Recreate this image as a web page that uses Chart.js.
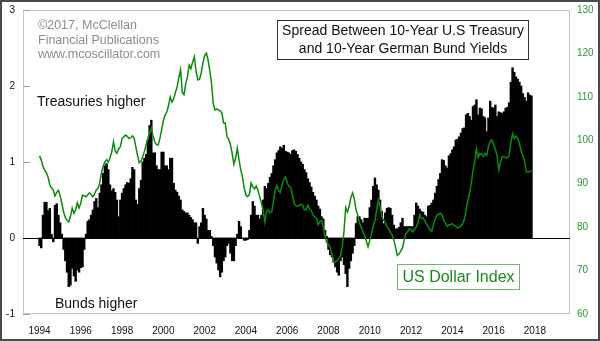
<!DOCTYPE html>
<html>
<head>
<meta charset="utf-8">
<script src="https://cdn.jsdelivr.net/npm/chart.js@4.4.0/dist/chart.umd.min.js"></script>
<style>
  html, body { margin: 0; padding: 0; background: #fff; }
  canvas { display: block; }
</style>
</head>
<body>
<canvas id="c" width="600" height="341"></canvas>
<script>
// Monthly series, first value = January 1994
const startYear = 1994;

// x-axis year labels
const yearTicks = [1994, 1996, 1998, 2000, 2002, 2004, 2006, 2008, 2010, 2012, 2014, 2016, 2018];
// left axis: yield spread (percentage points)
const spreadTicks = [-1, 0, 1, 2, 3];
// right axis: US Dollar Index
const dollarTicks = [60, 70, 80, 90, 100, 110, 120, 130];

// 10-Year US Treasury yield minus 10-Year German Bund yield
const spread = [
  -0.10,-0.13, 0.30, 0.47, 0.47, 0.36, 0.39, 0.05,-0.05, 0.43, 0.45, 0.30, // 1994
   0.20, 0.05,-0.15,-0.30,-0.45,-0.64,-0.62,-0.40,-0.50,-0.57,-0.42,-0.45, // 1995
  -0.39,-0.38,-0.15, 0.05, 0.22, 0.24, 0.30, 0.37, 0.48, 0.52, 0.40, 0.59, // 1996
   0.70, 0.85, 0.95, 0.98, 0.90, 0.70, 0.62, 0.65, 0.60, 0.50, 0.28, 0.50, // 1997
   0.59, 0.65, 0.70, 0.73, 0.72, 0.78, 0.93, 0.90, 0.50, 0.44, 0.65, 0.76, // 1998
   1.00, 1.05, 1.10, 1.29, 1.48, 1.55, 1.12, 1.12, 0.95, 0.90, 0.90, 1.13, // 1999
   1.13, 0.95, 0.95, 0.90, 1.05, 1.05, 0.72, 0.63, 0.60, 0.55, 0.50, 0.37, // 2000
   0.35, 0.33, 0.33, 0.30, 0.27, 0.24, 0.20, 0.20,-0.07, 0.15, 0.20, 0.39, // 2001
   0.30, 0.25, 0.10, 0.10, 0.02,-0.10,-0.25,-0.33,-0.42,-0.51,-0.45,-0.30, // 2002
  -0.25,-0.10,-0.07,-0.20,-0.30,-0.30,-0.10, 0.05, 0.22, 0.15, 0.00,-0.03, // 2003
  -0.03,-0.02, 0.10, 0.30, 0.48, 0.42, 0.30, 0.30, 0.25, 0.30, 0.50, 0.68, // 2004
   0.65, 0.72, 0.80, 0.85, 0.95, 1.03, 1.12, 1.15, 1.20, 1.18, 1.22, 1.14, // 2005
   1.13, 1.12, 1.10, 1.15, 1.16, 1.14, 1.10, 1.05, 1.00, 0.97, 0.90, 0.86, // 2006
   0.78, 0.73, 0.67, 0.60, 0.55, 0.50, 0.42, 0.38, 0.28, 0.25, 0.10, 0.02, // 2007
  -0.15,-0.22,-0.25,-0.32,-0.38,-0.45,-0.49,-0.30,-0.25,-0.35,-0.47,-0.64, // 2008
  -0.40,-0.30,-0.20,-0.10, 0.19, 0.28, 0.28, 0.24, 0.20, 0.26, 0.26, 0.26, // 2009
   0.40, 0.50, 0.68, 0.79, 0.70, 0.63, 0.50, 0.35, 0.19, 0.33, 0.39, 0.40, // 2010
   0.39, 0.30, 0.17, 0.12, 0.12, 0.14, 0.20, 0.26, 0.15, 0.15, 0.15, 0.15, // 2011
   0.15, 0.15, 0.30, 0.46, 0.42, 0.38, 0.35, 0.34, 0.30, 0.28, 0.42, 0.43, // 2012
   0.46, 0.50, 0.59, 0.68, 0.77, 0.85, 1.03, 1.02, 0.95, 0.92, 1.08, 1.11, // 2013
   1.16, 1.20, 1.29, 1.30, 1.33, 1.38, 1.44, 1.45, 1.62, 1.64, 1.60, 1.55, // 2014
   1.73, 1.75, 1.82, 1.62, 1.71, 1.70, 1.60, 1.58, 1.40, 1.58, 1.80, 1.72, // 2015
   1.71, 1.75, 1.60, 1.66, 1.65, 1.64, 1.66, 1.71, 1.72, 1.78, 2.05, 2.24, // 2016
   2.18, 2.12, 2.09, 2.05, 2.00, 1.90, 1.85, 1.80, 1.91, 1.88, 1.87        // 2017
];

// US Dollar Index, monthly
const dollar = [
   96.4, 95.5, 94.0, 93.2, 92.5, 91.5, 89.7, 89.0, 88.6, 87.2, 88.0, 88.5, // 1994
   87.2, 85.5, 83.5, 82.2, 81.6, 81.2, 82.5, 84.4, 83.2, 84.0, 85.6, 84.4, // 1995
   85.5, 87.4, 87.2, 87.0, 87.4, 87.9, 87.5, 87.0, 87.6, 88.6, 88.9, 90.2, // 1996
   92.5, 94.0, 95.0, 95.5, 95.0, 96.0, 97.3, 99.6, 97.5, 97.0, 98.0, 98.5, // 1997
  100.5,100.8,101.2,100.9,100.4,100.6,101.0,100.5, 98.5, 96.5, 94.8, 95.2, // 1998
   96.2, 97.5, 99.0,100.4,101.7,102.8,101.0, 99.6, 99.0, 98.9,100.5,102.4, // 1999
  104.5,105.8,106.5,108.0,110.0,108.8,109.5,111.0,112.3,114.5,116.2,111.0, // 2000
  110.5,113.0,114.6,117.3,116.5,118.0,119.2,116.0,113.9,114.0,115.5,117.8, // 2001
  119.5,120.1,118.5,116.0,113.2,108.5,107.0,107.2,107.0,106.8,106.3,104.0, // 2002
  104.0,100.8,100.2, 99.0, 97.0, 94.5, 95.9, 98.2, 95.5, 93.2, 91.5, 89.0, // 2003
   87.4, 87.0, 87.5, 90.2, 89.3, 88.8, 89.5, 88.5, 87.0, 85.5, 84.0, 81.2, // 2004
   83.5, 84.0, 83.3, 83.5, 85.8, 88.5, 89.6, 88.3, 88.0, 89.8, 91.0, 91.5, // 2005
   90.2, 89.4, 89.2, 87.5, 85.5, 85.0, 84.8, 85.0, 85.3, 85.0, 84.0, 84.0, // 2006
   85.0, 84.2, 83.8, 82.8, 82.3, 82.0, 80.5, 81.3, 81.5, 80.0, 77.7, 76.5, // 2007
   76.0, 75.3, 73.8, 72.0, 72.0, 72.3, 72.8, 73.5, 75.5, 79.0, 84.5, 83.5, // 2008
   84.8, 86.8, 87.9, 86.5, 84.0, 82.8, 81.0, 80.0, 79.0, 78.0, 76.8, 75.5, // 2009
   77.0, 78.5, 80.2, 81.5, 84.0, 86.2, 84.8, 82.5, 81.6, 81.0, 80.2, 79.6, // 2010
   78.8, 78.2, 77.0, 75.4, 73.5, 73.8, 74.5, 75.2, 77.0, 78.5, 79.0, 79.6, // 2011
   79.4, 78.9, 79.5, 80.0, 81.0, 82.8, 82.0, 82.1, 81.5, 80.7, 80.0, 79.4, // 2012
   79.1, 80.5, 81.8, 82.8, 83.0, 83.2, 82.8, 81.5, 81.0, 80.2, 80.5, 80.6, // 2013
   80.8, 80.4, 80.2, 79.8, 80.0, 80.2, 80.8, 81.8, 84.0, 86.0, 87.8, 90.0, // 2014
   93.0, 95.0, 98.0, 96.0, 97.0, 96.8, 96.3, 97.0, 96.5, 98.5, 99.8,100.1, // 2015
   99.0, 98.0, 96.5, 93.2, 95.0, 96.2, 96.2, 96.0, 96.0, 96.5, 99.5,101.5, // 2016
  100.4,101.0,100.5, 99.2, 97.5, 96.5, 95.2, 92.7, 92.7, 92.8, 93.0        // 2017
];

const monthX = i => startYear + i / 12;

const FONT = '"Liberation Sans", Arial, Helvetica, sans-serif';
const GREEN = '#0b8a0b';
const GREEN_TEXT = '#2a9a2a';

// keep the plot rectangle exactly where the axes put it (no label overflow padding)
const noOverflow = s => {
  s.paddingTop = 0; s.paddingBottom = 0; s.paddingLeft = 0; s.paddingRight = 0;
};

// Frame, inner plot border, zero line, left tick marks and text annotations
const decor = {
  id: 'decor',
  beforeDraw(chart) {
    const ctx = chart.ctx;
    ctx.save();
    ctx.fillStyle = '#fff';
    ctx.fillRect(0, 0, chart.width, chart.height);
    ctx.restore();
  },
  beforeDatasetsDraw(chart) {
    const { ctx, chartArea: a, scales } = chart;
    ctx.save();
    // plot border
    ctx.strokeStyle = '#c4c4c4';
    ctx.lineWidth = 1;
    ctx.strokeRect(a.left + 0.5, a.top + 0.5, a.width - 1, a.height - 1);
    // short ticks on the left axis, drawn inward
    ctx.strokeStyle = '#a0a0a0';
    spreadTicks.forEach(v => {
      const y = Math.round(scales.y.getPixelForValue(v)) + 0.5;
      ctx.beginPath();
      ctx.moveTo(a.left, y);
      ctx.lineTo(a.left + 7, y);
      ctx.stroke();
    });
    // zero line
    const y0 = Math.round(scales.y.getPixelForValue(0)) + 0.5;
    ctx.strokeStyle = '#000';
    ctx.beginPath();
    ctx.moveTo(a.left, y0);
    ctx.lineTo(a.right, y0);
    ctx.stroke();
    ctx.restore();
  },
  afterDraw(chart) {
    const ctx = chart.ctx;
    ctx.save();
    ctx.textBaseline = 'middle';

    // copyright block
    ctx.fillStyle = '#8c8c8c';
    ctx.font = '12.5px ' + FONT;
    ctx.textAlign = 'left';
    ctx.fillText('\u00A92017, McClellan', 38, 26);
    ctx.fillText('Financial Publications', 38, 41);
    ctx.fillText('www.mcoscillator.com', 38, 55);

    // side notes
    ctx.fillStyle = '#111';
    ctx.font = '14px ' + FONT;
    ctx.fillText('Treasuries higher', 37, 102);
    ctx.fillText('Bunds higher', 55, 304);

    // title box
    ctx.fillStyle = '#fff';
    ctx.fillRect(277, 20, 251, 39);
    ctx.strokeStyle = '#333';
    ctx.lineWidth = 1;
    ctx.strokeRect(277.5, 20.5, 251, 39);
    ctx.fillStyle = '#111';
    ctx.textAlign = 'center';
    ctx.font = '14px ' + FONT;
    ctx.fillText('Spread Between 10-Year U.S Treasury', 403, 31);
    ctx.fillText('and 10-Year German Bund Yields', 403, 49);

    // dollar index label box
    ctx.fillStyle = '#fff';
    ctx.fillRect(397, 264, 122, 25);
    ctx.strokeStyle = '#6cb86c';
    ctx.strokeRect(397.5, 264.5, 122, 25);
    ctx.fillStyle = '#1a8a1a';
    ctx.font = '16px ' + FONT;
    ctx.fillText('US Dollar Index', 458.5, 278);

    // outer frame
    ctx.strokeStyle = '#4a4a4a';
    ctx.lineWidth = 2;
    ctx.strokeRect(1, 1, chart.width - 2, chart.height - 2);
    ctx.restore();
  }
};

new Chart(document.getElementById('c'), {
  data: {
    datasets: [
      {
        type: 'line',
        label: 'US Dollar Index',
        data: dollar.map((v, i) => ({ x: monthX(i), y: v })),
        yAxisID: 'y1',
        borderColor: GREEN,
        borderWidth: 1.5,
        pointRadius: 0,
        tension: 0,
        fill: false,
        order: 0
      },
      {
        type: 'bar',
        label: 'Spread',
        data: spread.map((v, i) => ({ x: monthX(i), y: v })),
        yAxisID: 'y',
        backgroundColor: '#000',
        borderWidth: 0,
        inflateAmount: 0.35,
        barPercentage: 1,
        categoryPercentage: 1,
        order: 1
      }
    ]
  },
  options: {
    responsive: false,
    animation: false,
    events: [],
    layout: { padding: { top: 10, left: 0, right: 0, bottom: 0 } },
    plugins: { legend: { display: false }, tooltip: { enabled: false } },
    scales: {
      x: {
        type: 'linear',
        offset: false,
        min: 1993.2,
        max: 2019.7,
        grid: { display: false, drawTicks: false },
        border: { display: false },
        afterBuildTicks: s => { s.ticks = yearTicks.map(v => ({ value: v })); },
        afterFit: s => { s.height = 27; noOverflow(s); },
        ticks: {
          autoSkip: false,
          maxRotation: 0,
          padding: 11,
          color: '#111',
          font: { family: FONT, size: 10 },
          callback: v => String(v)
        }
      },
      y: {
        position: 'left',
        min: -1,
        max: 3,
        grid: { display: false, drawTicks: false },
        border: { display: false },
        afterBuildTicks: s => { s.ticks = spreadTicks.map(v => ({ value: v })); },
        afterFit: s => { s.width = 23; noOverflow(s); },
        ticks: {
          padding: 8,
          color: '#111',
          font: { family: FONT, size: 10 }
        }
      },
      y1: {
        position: 'right',
        min: 60,
        max: 130,
        grid: { display: false, drawTicks: false },
        border: { display: false },
        afterBuildTicks: s => { s.ticks = dollarTicks.map(v => ({ value: v })); },
        afterFit: s => { s.width = 30; noOverflow(s); },
        ticks: {
          padding: 7,
          color: GREEN_TEXT,
          font: { family: FONT, size: 10 }
        }
      }
    }
  },
  plugins: [decor]
});
</script>
</body>
</html>
